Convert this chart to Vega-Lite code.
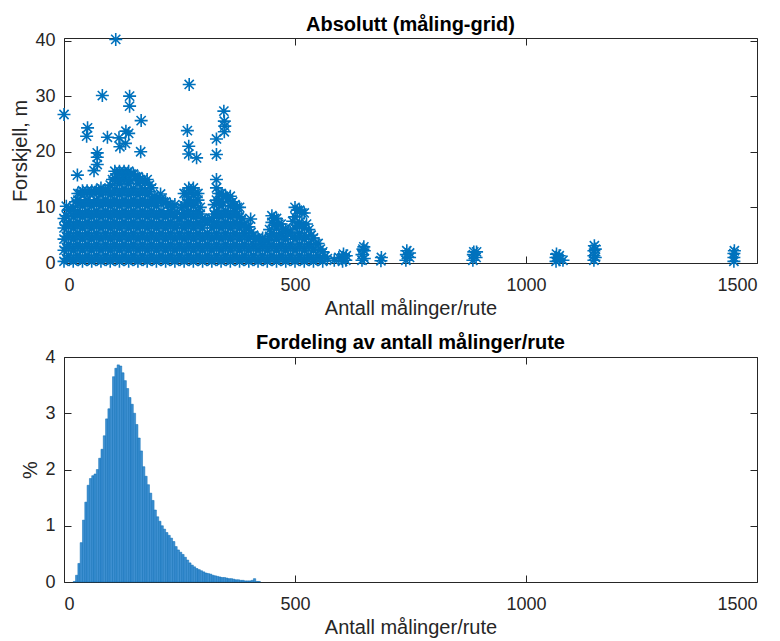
{
"$schema": "https://vega.github.io/schema/vega-lite/v6.json",
"padding": {"left": 10, "top": 14, "right": 2, "bottom": 2},
"spacing": 13,
"config": {
 "view": {"stroke": "#262626", "strokeWidth": 1},
 "axis": {"grid": false, "domain": false, "tickColor": "#262626", "tickSize": -7, "tickWidth": 1, "labelColor": "#262626", "labelFont": "Liberation Sans", "labelFontSize": 18, "titleColor": "#262626", "titleFont": "Liberation Sans", "titleFontSize": 20, "titleFontWeight": "normal", "format": "d"},
 "axisX": {"labelPadding": 20, "titlePadding": 4},
 "axisY": {"labelPadding": 16, "titlePadding": 4},
 "title": {"font": "Liberation Sans", "fontSize": 20, "fontWeight": "bold", "color": "#000000", "offset": -5, "baseline": "alphabetic"}
},
"vconcat": [
{
 "title": "Absolutt (måling-grid)",
 "width": 693, "height": 225,
 "data": {"values": [
{"antall":0,"forskjell":0.3},{"antall":0,"forskjell":2.3},{"antall":0,"forskjell":4.3},{"antall":0,"forskjell":6.3},{"antall":0,"forskjell":8},
{"antall":10,"forskjell":1.3},{"antall":10,"forskjell":3.3},{"antall":10,"forskjell":5.3},{"antall":10,"forskjell":7.3},{"antall":10,"forskjell":9.5},
{"antall":20,"forskjell":0.3},{"antall":20,"forskjell":2.3},{"antall":20,"forskjell":4.3},{"antall":20,"forskjell":6.3},{"antall":20,"forskjell":8.3},{"antall":20,"forskjell":10},
{"antall":30,"forskjell":1.3},{"antall":30,"forskjell":3.3},{"antall":30,"forskjell":5.3},{"antall":30,"forskjell":7.3},{"antall":30,"forskjell":9.3},{"antall":30,"forskjell":11.3},{"antall":30,"forskjell":12.5},
{"antall":40,"forskjell":0.3},{"antall":40,"forskjell":2.3},{"antall":40,"forskjell":4.3},{"antall":40,"forskjell":6.3},{"antall":40,"forskjell":8.3},{"antall":40,"forskjell":10.3},{"antall":40,"forskjell":13},
{"antall":50,"forskjell":1.3},{"antall":50,"forskjell":3.3},{"antall":50,"forskjell":5.3},{"antall":50,"forskjell":7.3},{"antall":50,"forskjell":9.3},{"antall":50,"forskjell":11.3},{"antall":50,"forskjell":13},
{"antall":60,"forskjell":0.3},{"antall":60,"forskjell":2.3},{"antall":60,"forskjell":4.3},{"antall":60,"forskjell":6.3},{"antall":60,"forskjell":8.3},{"antall":60,"forskjell":10.3},{"antall":60,"forskjell":13},
{"antall":70,"forskjell":1.3},{"antall":70,"forskjell":3.3},{"antall":70,"forskjell":5.3},{"antall":70,"forskjell":7.3},{"antall":70,"forskjell":9.3},{"antall":70,"forskjell":11.3},{"antall":70,"forskjell":13},
{"antall":80,"forskjell":0.3},{"antall":80,"forskjell":2.3},{"antall":80,"forskjell":4.3},{"antall":80,"forskjell":6.3},{"antall":80,"forskjell":8.3},{"antall":80,"forskjell":10.3},{"antall":80,"forskjell":12.3},{"antall":80,"forskjell":13.5},
{"antall":90,"forskjell":1.3},{"antall":90,"forskjell":3.3},{"antall":90,"forskjell":5.3},{"antall":90,"forskjell":7.3},{"antall":90,"forskjell":9.3},{"antall":90,"forskjell":11.3},{"antall":90,"forskjell":13},
{"antall":100,"forskjell":0.3},{"antall":100,"forskjell":2.3},{"antall":100,"forskjell":4.3},{"antall":100,"forskjell":6.3},{"antall":100,"forskjell":8.3},{"antall":100,"forskjell":10.3},{"antall":100,"forskjell":12.3},{"antall":100,"forskjell":14},
{"antall":110,"forskjell":1.3},{"antall":110,"forskjell":3.3},{"antall":110,"forskjell":5.3},{"antall":110,"forskjell":7.3},{"antall":110,"forskjell":9.3},{"antall":110,"forskjell":11.3},{"antall":110,"forskjell":13.3},{"antall":110,"forskjell":15.3},{"antall":110,"forskjell":16.5},
{"antall":120,"forskjell":0.3},{"antall":120,"forskjell":2.3},{"antall":120,"forskjell":4.3},{"antall":120,"forskjell":6.3},{"antall":120,"forskjell":8.3},{"antall":120,"forskjell":10.3},{"antall":120,"forskjell":12.3},{"antall":120,"forskjell":14.3},{"antall":120,"forskjell":16.5},
{"antall":130,"forskjell":1.3},{"antall":130,"forskjell":3.3},{"antall":130,"forskjell":5.3},{"antall":130,"forskjell":7.3},{"antall":130,"forskjell":9.3},{"antall":130,"forskjell":11.3},{"antall":130,"forskjell":13.3},{"antall":130,"forskjell":15.3},{"antall":130,"forskjell":16.5},
{"antall":140,"forskjell":0.3},{"antall":140,"forskjell":2.3},{"antall":140,"forskjell":4.3},{"antall":140,"forskjell":6.3},{"antall":140,"forskjell":8.3},{"antall":140,"forskjell":10.3},{"antall":140,"forskjell":12.3},{"antall":140,"forskjell":14.3},{"antall":140,"forskjell":16.5},
{"antall":150,"forskjell":1.3},{"antall":150,"forskjell":3.3},{"antall":150,"forskjell":5.3},{"antall":150,"forskjell":7.3},{"antall":150,"forskjell":9.3},{"antall":150,"forskjell":11.3},{"antall":150,"forskjell":13.3},{"antall":150,"forskjell":16},
{"antall":160,"forskjell":0.3},{"antall":160,"forskjell":2.3},{"antall":160,"forskjell":4.3},{"antall":160,"forskjell":6.3},{"antall":160,"forskjell":8.3},{"antall":160,"forskjell":10.3},{"antall":160,"forskjell":12.3},{"antall":160,"forskjell":14.3},{"antall":160,"forskjell":15.5},
{"antall":170,"forskjell":1.3},{"antall":170,"forskjell":3.3},{"antall":170,"forskjell":5.3},{"antall":170,"forskjell":7.3},{"antall":170,"forskjell":9.3},{"antall":170,"forskjell":11.3},{"antall":170,"forskjell":13.3},{"antall":170,"forskjell":15},
{"antall":180,"forskjell":0.3},{"antall":180,"forskjell":2.3},{"antall":180,"forskjell":4.3},{"antall":180,"forskjell":6.3},{"antall":180,"forskjell":8.3},{"antall":180,"forskjell":10.3},{"antall":180,"forskjell":12.3},{"antall":180,"forskjell":15},
{"antall":190,"forskjell":1.3},{"antall":190,"forskjell":3.3},{"antall":190,"forskjell":5.3},{"antall":190,"forskjell":7.3},{"antall":190,"forskjell":9.3},{"antall":190,"forskjell":11.3},{"antall":190,"forskjell":13.5},
{"antall":200,"forskjell":0.3},{"antall":200,"forskjell":2.3},{"antall":200,"forskjell":4.3},{"antall":200,"forskjell":6.3},{"antall":200,"forskjell":8.3},{"antall":200,"forskjell":10.3},{"antall":200,"forskjell":11.5},
{"antall":210,"forskjell":1.3},{"antall":210,"forskjell":3.3},{"antall":210,"forskjell":5.3},{"antall":210,"forskjell":7.3},{"antall":210,"forskjell":9.3},{"antall":210,"forskjell":11.5},
{"antall":220,"forskjell":0.3},{"antall":220,"forskjell":2.3},{"antall":220,"forskjell":4.3},{"antall":220,"forskjell":6.3},{"antall":220,"forskjell":8.3},{"antall":220,"forskjell":11},
{"antall":230,"forskjell":1.3},{"antall":230,"forskjell":3.3},{"antall":230,"forskjell":5.3},{"antall":230,"forskjell":7.3},{"antall":230,"forskjell":9.3},{"antall":230,"forskjell":10.5},
{"antall":240,"forskjell":0.3},{"antall":240,"forskjell":2.3},{"antall":240,"forskjell":4.3},{"antall":240,"forskjell":6.3},{"antall":240,"forskjell":8.3},{"antall":240,"forskjell":10.5},
{"antall":250,"forskjell":1.3},{"antall":250,"forskjell":3.3},{"antall":250,"forskjell":5.3},{"antall":250,"forskjell":8},
{"antall":260,"forskjell":0.3},{"antall":260,"forskjell":2.3},{"antall":260,"forskjell":4.3},{"antall":260,"forskjell":6.3},{"antall":260,"forskjell":8.3},{"antall":260,"forskjell":10.3},{"antall":260,"forskjell":12.5},
{"antall":270,"forskjell":1.3},{"antall":270,"forskjell":3.3},{"antall":270,"forskjell":5.3},{"antall":270,"forskjell":7.3},{"antall":270,"forskjell":9.3},{"antall":270,"forskjell":11.3},{"antall":270,"forskjell":13.5},
{"antall":280,"forskjell":0.3},{"antall":280,"forskjell":2.3},{"antall":280,"forskjell":4.3},{"antall":280,"forskjell":6.3},{"antall":280,"forskjell":8.3},{"antall":280,"forskjell":10.3},{"antall":280,"forskjell":12.3},{"antall":280,"forskjell":13.5},
{"antall":290,"forskjell":1.3},{"antall":290,"forskjell":3.3},{"antall":290,"forskjell":5.3},{"antall":290,"forskjell":7.3},{"antall":290,"forskjell":9.3},{"antall":290,"forskjell":11.3},{"antall":290,"forskjell":12.5},
{"antall":300,"forskjell":0.3},{"antall":300,"forskjell":2.3},{"antall":300,"forskjell":4.3},{"antall":300,"forskjell":6.3},{"antall":300,"forskjell":8},
{"antall":310,"forskjell":1.3},{"antall":310,"forskjell":3.3},{"antall":310,"forskjell":5.3},{"antall":310,"forskjell":7.5},
{"antall":320,"forskjell":0.3},{"antall":320,"forskjell":2.3},{"antall":320,"forskjell":4.3},{"antall":320,"forskjell":6.3},{"antall":320,"forskjell":8},
{"antall":330,"forskjell":1.3},{"antall":330,"forskjell":3.3},{"antall":330,"forskjell":5.3},{"antall":330,"forskjell":7.3},{"antall":330,"forskjell":9.3},{"antall":330,"forskjell":11.3},{"antall":330,"forskjell":13.5},
{"antall":340,"forskjell":0.3},{"antall":340,"forskjell":2.3},{"antall":340,"forskjell":4.3},{"antall":340,"forskjell":6.3},{"antall":340,"forskjell":8.3},{"antall":340,"forskjell":10.3},{"antall":340,"forskjell":12.5},
{"antall":350,"forskjell":1.3},{"antall":350,"forskjell":3.3},{"antall":350,"forskjell":5.3},{"antall":350,"forskjell":7.3},{"antall":350,"forskjell":9.3},{"antall":350,"forskjell":12},
{"antall":360,"forskjell":0.3},{"antall":360,"forskjell":2.3},{"antall":360,"forskjell":4.3},{"antall":360,"forskjell":6.3},{"antall":360,"forskjell":8.3},{"antall":360,"forskjell":10.3},{"antall":360,"forskjell":12},
{"antall":370,"forskjell":1.3},{"antall":370,"forskjell":3.3},{"antall":370,"forskjell":5.3},{"antall":370,"forskjell":7.3},{"antall":370,"forskjell":9.3},{"antall":370,"forskjell":10.5},
{"antall":380,"forskjell":0.3},{"antall":380,"forskjell":2.3},{"antall":380,"forskjell":4.3},{"antall":380,"forskjell":6.3},{"antall":380,"forskjell":8.3},{"antall":380,"forskjell":10},
{"antall":390,"forskjell":1.3},{"antall":390,"forskjell":3.3},{"antall":390,"forskjell":5.3},{"antall":390,"forskjell":7},
{"antall":400,"forskjell":0.3},{"antall":400,"forskjell":2.3},{"antall":400,"forskjell":4.3},{"antall":400,"forskjell":6.5},
{"antall":410,"forskjell":1.3},{"antall":410,"forskjell":3.3},{"antall":410,"forskjell":5},
{"antall":420,"forskjell":0.3},{"antall":420,"forskjell":2.3},{"antall":420,"forskjell":4.5},
{"antall":430,"forskjell":1.3},{"antall":430,"forskjell":3.3},{"antall":430,"forskjell":4.5},
{"antall":440,"forskjell":0.3},{"antall":440,"forskjell":2.3},{"antall":440,"forskjell":4},
{"antall":450,"forskjell":1.3},{"antall":450,"forskjell":3.3},{"antall":450,"forskjell":5.3},{"antall":450,"forskjell":7.3},{"antall":450,"forskjell":8.5},
{"antall":460,"forskjell":0.3},{"antall":460,"forskjell":2.3},{"antall":460,"forskjell":4.3},{"antall":460,"forskjell":6.3},{"antall":460,"forskjell":8},
{"antall":470,"forskjell":1.3},{"antall":470,"forskjell":3.3},{"antall":470,"forskjell":5.3},{"antall":470,"forskjell":7},
{"antall":480,"forskjell":0.3},{"antall":480,"forskjell":2.3},{"antall":480,"forskjell":4.3},{"antall":480,"forskjell":6},
{"antall":490,"forskjell":1.3},{"antall":490,"forskjell":3.3},{"antall":490,"forskjell":5.5},
{"antall":500,"forskjell":0.3},{"antall":500,"forskjell":2.3},{"antall":500,"forskjell":4.3},{"antall":500,"forskjell":6.3},{"antall":500,"forskjell":8.3},{"antall":500,"forskjell":10},
{"antall":510,"forskjell":1.3},{"antall":510,"forskjell":3.3},{"antall":510,"forskjell":5.3},{"antall":510,"forskjell":7.3},{"antall":510,"forskjell":9.5},
{"antall":520,"forskjell":0.3},{"antall":520,"forskjell":2.3},{"antall":520,"forskjell":4.3},{"antall":520,"forskjell":6.3},{"antall":520,"forskjell":9},
{"antall":530,"forskjell":1.3},{"antall":530,"forskjell":3.3},{"antall":530,"forskjell":6},
{"antall":540,"forskjell":0.3},{"antall":540,"forskjell":2.3},{"antall":540,"forskjell":4.5},
{"antall":550,"forskjell":1.3},{"antall":550,"forskjell":3.5},
{"antall":560,"forskjell":0.3},{"antall":560,"forskjell":2},
{"antall":570,"forskjell":0.8},
{"antall":5,"forskjell":0.8},{"antall":5,"forskjell":2.8},{"antall":5,"forskjell":4.8},{"antall":5,"forskjell":6.8},{"antall":5,"forskjell":8.5},
{"antall":15,"forskjell":0.8},{"antall":15,"forskjell":2.8},{"antall":15,"forskjell":4.8},{"antall":15,"forskjell":6.8},{"antall":15,"forskjell":9.5},
{"antall":25,"forskjell":0.8},{"antall":25,"forskjell":2.8},{"antall":25,"forskjell":4.8},{"antall":25,"forskjell":6.8},{"antall":25,"forskjell":8.8},{"antall":25,"forskjell":11},
{"antall":35,"forskjell":0.8},{"antall":35,"forskjell":2.8},{"antall":35,"forskjell":4.8},{"antall":35,"forskjell":6.8},{"antall":35,"forskjell":8.8},{"antall":35,"forskjell":10.8},{"antall":35,"forskjell":12.5},
{"antall":45,"forskjell":0.8},{"antall":45,"forskjell":2.8},{"antall":45,"forskjell":4.8},{"antall":45,"forskjell":6.8},{"antall":45,"forskjell":8.8},{"antall":45,"forskjell":10.8},{"antall":45,"forskjell":12.5},
{"antall":55,"forskjell":0.8},{"antall":55,"forskjell":2.8},{"antall":55,"forskjell":4.8},{"antall":55,"forskjell":6.8},{"antall":55,"forskjell":8.8},{"antall":55,"forskjell":10.8},{"antall":55,"forskjell":12.5},
{"antall":65,"forskjell":0.8},{"antall":65,"forskjell":2.8},{"antall":65,"forskjell":4.8},{"antall":65,"forskjell":6.8},{"antall":65,"forskjell":8.8},{"antall":65,"forskjell":10.8},{"antall":65,"forskjell":12.5},
{"antall":75,"forskjell":0.8},{"antall":75,"forskjell":2.8},{"antall":75,"forskjell":4.8},{"antall":75,"forskjell":6.8},{"antall":75,"forskjell":8.8},{"antall":75,"forskjell":10.8},{"antall":75,"forskjell":13},
{"antall":85,"forskjell":0.8},{"antall":85,"forskjell":2.8},{"antall":85,"forskjell":4.8},{"antall":85,"forskjell":6.8},{"antall":85,"forskjell":8.8},{"antall":85,"forskjell":10.8},{"antall":85,"forskjell":13},
{"antall":95,"forskjell":0.8},{"antall":95,"forskjell":2.8},{"antall":95,"forskjell":4.8},{"antall":95,"forskjell":6.8},{"antall":95,"forskjell":8.8},{"antall":95,"forskjell":10.8},{"antall":95,"forskjell":13},
{"antall":105,"forskjell":0.8},{"antall":105,"forskjell":2.8},{"antall":105,"forskjell":4.8},{"antall":105,"forskjell":6.8},{"antall":105,"forskjell":8.8},{"antall":105,"forskjell":10.8},{"antall":105,"forskjell":12.8},{"antall":105,"forskjell":15},
{"antall":115,"forskjell":0.8},{"antall":115,"forskjell":2.8},{"antall":115,"forskjell":4.8},{"antall":115,"forskjell":6.8},{"antall":115,"forskjell":8.8},{"antall":115,"forskjell":10.8},{"antall":115,"forskjell":12.8},{"antall":115,"forskjell":14.8},{"antall":115,"forskjell":16},
{"antall":125,"forskjell":0.8},{"antall":125,"forskjell":2.8},{"antall":125,"forskjell":4.8},{"antall":125,"forskjell":6.8},{"antall":125,"forskjell":8.8},{"antall":125,"forskjell":10.8},{"antall":125,"forskjell":12.8},{"antall":125,"forskjell":14.8},{"antall":125,"forskjell":16},
{"antall":135,"forskjell":0.8},{"antall":135,"forskjell":2.8},{"antall":135,"forskjell":4.8},{"antall":135,"forskjell":6.8},{"antall":135,"forskjell":8.8},{"antall":135,"forskjell":10.8},{"antall":135,"forskjell":12.8},{"antall":135,"forskjell":14.8},{"antall":135,"forskjell":16},
{"antall":145,"forskjell":0.8},{"antall":145,"forskjell":2.8},{"antall":145,"forskjell":4.8},{"antall":145,"forskjell":6.8},{"antall":145,"forskjell":8.8},{"antall":145,"forskjell":10.8},{"antall":145,"forskjell":12.8},{"antall":145,"forskjell":14.8},{"antall":145,"forskjell":16},
{"antall":155,"forskjell":0.8},{"antall":155,"forskjell":2.8},{"antall":155,"forskjell":4.8},{"antall":155,"forskjell":6.8},{"antall":155,"forskjell":8.8},{"antall":155,"forskjell":10.8},{"antall":155,"forskjell":12.8},{"antall":155,"forskjell":15.5},
{"antall":165,"forskjell":0.8},{"antall":165,"forskjell":2.8},{"antall":165,"forskjell":4.8},{"antall":165,"forskjell":6.8},{"antall":165,"forskjell":8.8},{"antall":165,"forskjell":10.8},{"antall":165,"forskjell":12.8},{"antall":165,"forskjell":15},
{"antall":175,"forskjell":0.8},{"antall":175,"forskjell":2.8},{"antall":175,"forskjell":4.8},{"antall":175,"forskjell":6.8},{"antall":175,"forskjell":8.8},{"antall":175,"forskjell":10.8},{"antall":175,"forskjell":12.8},{"antall":175,"forskjell":14.5},
{"antall":185,"forskjell":0.8},{"antall":185,"forskjell":2.8},{"antall":185,"forskjell":4.8},{"antall":185,"forskjell":6.8},{"antall":185,"forskjell":8.8},{"antall":185,"forskjell":10.8},{"antall":185,"forskjell":12.8},{"antall":185,"forskjell":14},
{"antall":195,"forskjell":0.8},{"antall":195,"forskjell":2.8},{"antall":195,"forskjell":4.8},{"antall":195,"forskjell":6.8},{"antall":195,"forskjell":8.8},{"antall":195,"forskjell":10.8},{"antall":195,"forskjell":12},
{"antall":205,"forskjell":0.8},{"antall":205,"forskjell":2.8},{"antall":205,"forskjell":4.8},{"antall":205,"forskjell":6.8},{"antall":205,"forskjell":8.8},{"antall":205,"forskjell":11},
{"antall":215,"forskjell":0.8},{"antall":215,"forskjell":2.8},{"antall":215,"forskjell":4.8},{"antall":215,"forskjell":6.8},{"antall":215,"forskjell":8.8},{"antall":215,"forskjell":11},
{"antall":225,"forskjell":0.8},{"antall":225,"forskjell":2.8},{"antall":225,"forskjell":4.8},{"antall":225,"forskjell":6.8},{"antall":225,"forskjell":8.8},{"antall":225,"forskjell":10.5},
{"antall":235,"forskjell":0.8},{"antall":235,"forskjell":2.8},{"antall":235,"forskjell":4.8},{"antall":235,"forskjell":6.8},{"antall":235,"forskjell":8.8},{"antall":235,"forskjell":10},
{"antall":245,"forskjell":0.8},{"antall":245,"forskjell":2.8},{"antall":245,"forskjell":4.8},{"antall":245,"forskjell":6.8},{"antall":245,"forskjell":9},
{"antall":255,"forskjell":0.8},{"antall":255,"forskjell":2.8},{"antall":255,"forskjell":4.8},{"antall":255,"forskjell":6.8},{"antall":255,"forskjell":8.8},{"antall":255,"forskjell":10},
{"antall":265,"forskjell":0.8},{"antall":265,"forskjell":2.8},{"antall":265,"forskjell":4.8},{"antall":265,"forskjell":6.8},{"antall":265,"forskjell":8.8},{"antall":265,"forskjell":10.8},{"antall":265,"forskjell":12.5},
{"antall":275,"forskjell":0.8},{"antall":275,"forskjell":2.8},{"antall":275,"forskjell":4.8},{"antall":275,"forskjell":6.8},{"antall":275,"forskjell":8.8},{"antall":275,"forskjell":10.8},{"antall":275,"forskjell":13},
{"antall":285,"forskjell":0.8},{"antall":285,"forskjell":2.8},{"antall":285,"forskjell":4.8},{"antall":285,"forskjell":6.8},{"antall":285,"forskjell":8.8},{"antall":285,"forskjell":10.8},{"antall":285,"forskjell":12.5},
{"antall":295,"forskjell":0.8},{"antall":295,"forskjell":2.8},{"antall":295,"forskjell":4.8},{"antall":295,"forskjell":6.8},{"antall":295,"forskjell":8.8},{"antall":295,"forskjell":10},
{"antall":305,"forskjell":0.8},{"antall":305,"forskjell":2.8},{"antall":305,"forskjell":4.8},{"antall":305,"forskjell":7.5},
{"antall":315,"forskjell":0.8},{"antall":315,"forskjell":2.8},{"antall":315,"forskjell":4.8},{"antall":315,"forskjell":7.5},
{"antall":325,"forskjell":0.8},{"antall":325,"forskjell":2.8},{"antall":325,"forskjell":4.8},{"antall":325,"forskjell":6.8},{"antall":325,"forskjell":8.8},{"antall":325,"forskjell":10.5},
{"antall":335,"forskjell":0.8},{"antall":335,"forskjell":2.8},{"antall":335,"forskjell":4.8},{"antall":335,"forskjell":6.8},{"antall":335,"forskjell":8.8},{"antall":335,"forskjell":10.8},{"antall":335,"forskjell":12.5},
{"antall":345,"forskjell":0.8},{"antall":345,"forskjell":2.8},{"antall":345,"forskjell":4.8},{"antall":345,"forskjell":6.8},{"antall":345,"forskjell":8.8},{"antall":345,"forskjell":10.8},{"antall":345,"forskjell":12},
{"antall":355,"forskjell":0.8},{"antall":355,"forskjell":2.8},{"antall":355,"forskjell":4.8},{"antall":355,"forskjell":6.8},{"antall":355,"forskjell":8.8},{"antall":355,"forskjell":11.5},
{"antall":365,"forskjell":0.8},{"antall":365,"forskjell":2.8},{"antall":365,"forskjell":4.8},{"antall":365,"forskjell":6.8},{"antall":365,"forskjell":8.8},{"antall":365,"forskjell":11},
{"antall":375,"forskjell":0.8},{"antall":375,"forskjell":2.8},{"antall":375,"forskjell":4.8},{"antall":375,"forskjell":6.8},{"antall":375,"forskjell":8.8},{"antall":375,"forskjell":10},
{"antall":385,"forskjell":0.8},{"antall":385,"forskjell":2.8},{"antall":385,"forskjell":4.8},{"antall":385,"forskjell":6.8},{"antall":385,"forskjell":8},
{"antall":395,"forskjell":0.8},{"antall":395,"forskjell":2.8},{"antall":395,"forskjell":4.8},{"antall":395,"forskjell":6.5},
{"antall":405,"forskjell":0.8},{"antall":405,"forskjell":2.8},{"antall":405,"forskjell":5.5},
{"antall":415,"forskjell":0.8},{"antall":415,"forskjell":2.8},{"antall":415,"forskjell":4.5},
{"antall":425,"forskjell":0.8},{"antall":425,"forskjell":2.8},{"antall":425,"forskjell":4},
{"antall":435,"forskjell":0.8},{"antall":435,"forskjell":2.8},{"antall":435,"forskjell":4},
{"antall":445,"forskjell":0.8},{"antall":445,"forskjell":2.8},{"antall":445,"forskjell":4.8},{"antall":445,"forskjell":6},
{"antall":455,"forskjell":0.8},{"antall":455,"forskjell":2.8},{"antall":455,"forskjell":4.8},{"antall":455,"forskjell":6.8},{"antall":455,"forskjell":8},
{"antall":465,"forskjell":0.8},{"antall":465,"forskjell":2.8},{"antall":465,"forskjell":4.8},{"antall":465,"forskjell":7},
{"antall":475,"forskjell":0.8},{"antall":475,"forskjell":2.8},{"antall":475,"forskjell":4.8},{"antall":475,"forskjell":6},
{"antall":485,"forskjell":0.8},{"antall":485,"forskjell":2.8},{"antall":485,"forskjell":5.5},
{"antall":495,"forskjell":0.8},{"antall":495,"forskjell":2.8},{"antall":495,"forskjell":4.8},{"antall":495,"forskjell":7.5},
{"antall":505,"forskjell":0.8},{"antall":505,"forskjell":2.8},{"antall":505,"forskjell":4.8},{"antall":505,"forskjell":6.8},{"antall":505,"forskjell":9.5},
{"antall":515,"forskjell":0.8},{"antall":515,"forskjell":2.8},{"antall":515,"forskjell":4.8},{"antall":515,"forskjell":6.8},{"antall":515,"forskjell":9},
{"antall":525,"forskjell":0.8},{"antall":525,"forskjell":2.8},{"antall":525,"forskjell":4.8},{"antall":525,"forskjell":7},
{"antall":535,"forskjell":0.8},{"antall":535,"forskjell":2.8},{"antall":535,"forskjell":5},
{"antall":545,"forskjell":0.8},{"antall":545,"forskjell":3.5},
{"antall":555,"forskjell":0.8},{"antall":555,"forskjell":2.5},
{"antall":565,"forskjell":1.2},
{"antall":585,"forskjell":0.5},{"antall":595,"forskjell":1},
{"antall":603,"forskjell":0.3},{"antall":603,"forskjell":1},{"antall":605,"forskjell":1.6},{"antall":610,"forskjell":0.5},{"antall":611,"forskjell":1.3},
{"antall":645,"forskjell":0.5},{"antall":645,"forskjell":1.5},{"antall":647,"forskjell":2.5},{"antall":650,"forskjell":0.8},{"antall":650,"forskjell":2.2},{"antall":649,"forskjell":2.9},
{"antall":686,"forskjell":0.4},{"antall":687,"forskjell":1},
{"antall":740,"forskjell":0.5},{"antall":741,"forskjell":1.5},{"antall":742,"forskjell":2.2},{"antall":748,"forskjell":1},{"antall":748,"forskjell":1.8},
{"antall":885,"forskjell":0.5},{"antall":886,"forskjell":1.5},{"antall":887,"forskjell":2},{"antall":892,"forskjell":1},{"antall":893,"forskjell":2},
{"antall":1065,"forskjell":0.3},{"antall":1065,"forskjell":1},{"antall":1066,"forskjell":1.6},{"antall":1072,"forskjell":0.6},{"antall":1072,"forskjell":1.3},{"antall":1080,"forskjell":0.5},
{"antall":1147,"forskjell":0.5},{"antall":1147,"forskjell":1.3},{"antall":1147,"forskjell":2.2},{"antall":1148,"forskjell":3.1},{"antall":1150,"forskjell":1},{"antall":1150,"forskjell":2.5},
{"antall":1450,"forskjell":0.3},{"antall":1450,"forskjell":1},{"antall":1450,"forskjell":1.7},{"antall":1451,"forskjell":2.2},
{"antall":0,"forskjell":26.7},{"antall":112,"forskjell":40.2},{"antall":83,"forskjell":30.1},{"antall":142,"forskjell":30},{"antall":142,"forskjell":28.2},
{"antall":29,"forskjell":15.8},{"antall":51,"forskjell":24.3},{"antall":49,"forskjell":22.8},{"antall":72,"forskjell":19.8},{"antall":72,"forskjell":19},{"antall":72,"forskjell":17.7},{"antall":65,"forskjell":16.6},
{"antall":94,"forskjell":22.6},{"antall":119,"forskjell":22.5},{"antall":121,"forskjell":20.9},{"antall":134,"forskjell":23.7},{"antall":133,"forskjell":21.5},{"antall":140,"forskjell":23.3},
{"antall":167,"forskjell":25.6},{"antall":166,"forskjell":20},{"antall":271,"forskjell":32.1},{"antall":267,"forskjell":23.8},{"antall":270,"forskjell":21},{"antall":270,"forskjell":19.6},{"antall":287,"forskjell":18.9},
{"antall":330,"forskjell":22.3},{"antall":330,"forskjell":19.5},{"antall":330,"forskjell":15},{"antall":346,"forskjell":27.3},{"antall":347,"forskjell":25.5},{"antall":348,"forskjell":24.6},{"antall":347,"forskjell":23.6},
{"antall":209,"forskjell":12.4},{"antall":404,"forskjell":7.9},{"antall":5,"forskjell":10.2}
 ]},
 "resolve": {"axis": {"x": "independent", "y": "independent"}},
 "layer": [
  {"mark": {"type": "point", "shape": "M-1,0H1M0,-1V1M-0.7071,-0.7071L0.7071,0.7071M-0.7071,0.7071L0.7071,-0.7071", "filled": false, "size": 169, "strokeWidth": 1.6, "color": "#0072bd", "opacity": 1},
   "encoding": {
    "x": {"field": "antall", "type": "quantitative", "scale": {"domain": [0, 1500], "nice": false, "zero": false}, "axis": {"values": [0, 500, 1000, 1500], "title": "Antall målinger/rute"}},
    "y": {"field": "forskjell", "type": "quantitative", "scale": {"domain": [0, 40.45], "nice": false}, "axis": {"values": [0, 10, 20, 30, 40], "title": "Forskjell, m"}}
   }},
  {"mark": {"type": "point", "opacity": 0},
   "encoding": {
    "x": {"field": "antall", "type": "quantitative", "axis": {"orient": "top", "values": [0, 500, 1000, 1500], "labels": false, "title": null}},
    "y": {"field": "forskjell", "type": "quantitative", "axis": {"orient": "right", "values": [0, 10, 20, 30, 40], "labels": false, "title": null}}
   }}
 ]
},
{
 "title": "Fordeling av antall målinger/rute",
 "width": 693, "height": 225,
 "data": {"values": [
{"fra":20,"til":25,"prosent":0.01},{"fra":25,"til":30,"prosent":0.12},{"fra":30,"til":35,"prosent":0.33},{"fra":35,"til":40,"prosent":0.7},
{"fra":40,"til":45,"prosent":1.1},{"fra":45,"til":50,"prosent":1.42},{"fra":50,"til":55,"prosent":1.72},{"fra":55,"til":60,"prosent":1.84},
{"fra":60,"til":65,"prosent":1.89},{"fra":65,"til":70,"prosent":1.92},{"fra":70,"til":75,"prosent":2.0},{"fra":75,"til":80,"prosent":2.2},
{"fra":80,"til":85,"prosent":2.36},{"fra":85,"til":90,"prosent":2.6},{"fra":90,"til":95,"prosent":2.9},{"fra":95,"til":100,"prosent":3.08},
{"fra":100,"til":105,"prosent":3.3},{"fra":105,"til":110,"prosent":3.65},{"fra":110,"til":115,"prosent":3.8},{"fra":115,"til":120,"prosent":3.86},
{"fra":120,"til":125,"prosent":3.84},{"fra":125,"til":130,"prosent":3.72},{"fra":130,"til":135,"prosent":3.58},{"fra":135,"til":140,"prosent":3.44},
{"fra":140,"til":145,"prosent":3.28},{"fra":145,"til":150,"prosent":3.16},{"fra":150,"til":155,"prosent":3.0},{"fra":155,"til":160,"prosent":2.8},
{"fra":160,"til":165,"prosent":2.56},{"fra":165,"til":170,"prosent":2.33},{"fra":170,"til":175,"prosent":2.05},{"fra":175,"til":180,"prosent":1.88},
{"fra":180,"til":185,"prosent":1.73},{"fra":185,"til":190,"prosent":1.58},{"fra":190,"til":195,"prosent":1.45},{"fra":195,"til":200,"prosent":1.28},
{"fra":200,"til":205,"prosent":1.16},{"fra":205,"til":210,"prosent":1.08},{"fra":210,"til":215,"prosent":1.0},{"fra":215,"til":220,"prosent":0.94},
{"fra":220,"til":225,"prosent":0.88},{"fra":225,"til":230,"prosent":0.83},{"fra":230,"til":235,"prosent":0.78},{"fra":235,"til":240,"prosent":0.72},
{"fra":240,"til":245,"prosent":0.63},{"fra":245,"til":250,"prosent":0.57},{"fra":250,"til":255,"prosent":0.53},{"fra":255,"til":260,"prosent":0.49},
{"fra":260,"til":265,"prosent":0.44},{"fra":265,"til":270,"prosent":0.39},{"fra":270,"til":275,"prosent":0.34},{"fra":275,"til":280,"prosent":0.3},
{"fra":280,"til":285,"prosent":0.27},{"fra":285,"til":290,"prosent":0.24},{"fra":290,"til":295,"prosent":0.22},{"fra":295,"til":300,"prosent":0.2},
{"fra":300,"til":305,"prosent":0.18},{"fra":305,"til":310,"prosent":0.16},{"fra":310,"til":315,"prosent":0.15},{"fra":315,"til":320,"prosent":0.14},
{"fra":320,"til":325,"prosent":0.12},{"fra":325,"til":330,"prosent":0.11},{"fra":330,"til":335,"prosent":0.1},{"fra":335,"til":340,"prosent":0.09},
{"fra":340,"til":345,"prosent":0.08},{"fra":345,"til":350,"prosent":0.08},{"fra":350,"til":355,"prosent":0.07},{"fra":355,"til":360,"prosent":0.06},
{"fra":360,"til":365,"prosent":0.06},{"fra":365,"til":370,"prosent":0.05},{"fra":370,"til":375,"prosent":0.04},{"fra":375,"til":380,"prosent":0.04},
{"fra":380,"til":385,"prosent":0.03},{"fra":385,"til":390,"prosent":0.03},{"fra":390,"til":395,"prosent":0.02},{"fra":395,"til":400,"prosent":0.02},
{"fra":400,"til":405,"prosent":0.02},{"fra":405,"til":410,"prosent":0.03},{"fra":410,"til":415,"prosent":0.06},{"fra":415,"til":420,"prosent":0.01},
{"fra":420,"til":425,"prosent":0.01}
 ]},
 "resolve": {"axis": {"x": "independent", "y": "independent"}},
 "layer": [
  {"mark": {"type": "bar", "color": "#3d8fd1", "stroke": "#0b6cb5", "strokeWidth": 0.5},
   "encoding": {
    "x": {"field": "fra", "type": "quantitative", "scale": {"domain": [0, 1500], "nice": false, "zero": false}, "axis": {"values": [0, 500, 1000, 1500], "title": "Antall målinger/rute"}},
    "x2": {"field": "til"},
    "y": {"field": "prosent", "type": "quantitative", "scale": {"domain": [0, 4], "nice": false}, "axis": {"values": [0, 1, 2, 3, 4], "title": "%"}},
    "y2": {"datum": 0}
   }},
  {"mark": {"type": "point", "opacity": 0},
   "encoding": {
    "x": {"field": "fra", "type": "quantitative", "axis": {"orient": "top", "values": [0, 500, 1000, 1500], "labels": false, "title": null}},
    "y": {"field": "prosent", "type": "quantitative", "axis": {"orient": "right", "values": [0, 1, 2, 3, 4], "labels": false, "title": null}}
   }}
 ]
}
]
}
